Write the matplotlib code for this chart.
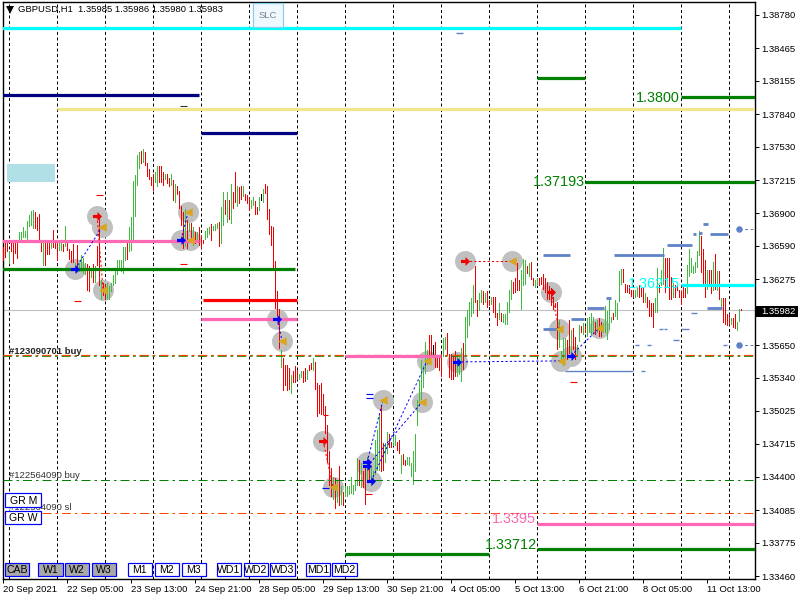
import matplotlib
matplotlib.use("Agg")
import matplotlib.pyplot as plt
import matplotlib.transforms as mtransforms
from matplotlib.patches import Rectangle
from matplotlib.path import Path
import numpy as np

plt.rcParams['font.family'] = ['Liberation Sans', 'DejaVu Sans']
plt.rcParams['lines.scale_dashes'] = False

# ---------- data: hourly bars, prices in 1/10000 ----------
high_pips = [
13658,13662,13662,13654,13662,13662,13662,13662,13672,13672,13677,13673,13683,13688,13692,13693,13691,13686,13689,13664,
13662,13662,13662,13662,13662,13674,13665,13662,13662,13662,13661,13678,13662,13656,13654,13661,13643,13660,13643,13650,
13648,13643,13642,13640,13637,13642,13640,13659,13688,13627,13624,13623,13624,13621,13624,13631,13637,13646,13646,13646,
13658,13658,13662,13677,13686,13721,13726,13745,13748,13749,13751,13748,13738,13732,13724,13727,13729,13735,13735,13735,
13729,13727,13727,13723,13727,13722,13718,13716,13711,13697,13691,13694,13684,13681,13681,13677,13672,13672,13677,13669,
13665,13673,13676,13677,13680,13678,13680,13681,13682,13696,13710,13703,13710,13703,13718,13710,13729,13716,13715,13716,
13716,13708,13707,13705,13703,13705,13702,13696,13705,13708,13713,13718,13716,13694,13678,13677,13645,13616,13599,13560,
13553,13546,13546,13543,13537,13540,13545,13541,13538,13540,13540,13543,13541,13546,13548,13553,13549,13529,13527,13529,
13519,13507,13489,13465,13448,13440,13439,13437,13450,13431,13426,13431,13431,13431,13440,13432,13437,13458,13456,13453,
13446,13451,13459,13453,13451,13446,13475,13484,13499,13507,13472,13472,13483,13481,13473,13478,13480,13473,13475,13461,
13462,13456,13459,13459,13453,13465,13481,13513,13532,13551,13545,13568,13560,13575,13575,13565,13568,13554,13553,13557,
13572,13573,13576,13557,13557,13556,13559,13557,13553,13562,13567,13592,13598,13606,13610,13622,13640,13608,13614,13617,
13616,13614,13616,13608,13611,13611,13611,13595,13605,13595,13594,13594,13606,13617,13627,13625,13629,13643,13627,13636,
13647,13646,13640,13643,13644,13629,13627,13629,13629,13630,13632,13629,13625,13621,13619,13611,13605,13606,13589,13559,
13572,13572,13570,13589,13579,13581,13573,13565,13584,13583,13586,13583,13591,13592,13595,13592,13587,13589,13591,13587,
13586,13602,13597,13608,13592,13595,13608,13605,13635,13637,13637,13623,13622,13622,13617,13617,13617,13619,13622,13619,
13619,13614,13611,13608,13605,13605,13610,13638,13622,13636,13657,13648,13648,13648,13630,13624,13622,13622,13617,13616,
13621,13619,13641,13656,13648,13640,13644,13654,13673,13668,13656,13646,13636,13636,13636,13644,13651,13635,13635,13610,
13610,13610,13594,13594,13591,13591,13594,13587,13599,13599]
low_pips = [
13645,13648,13653,13642,13653,13642,13651,13647,13662,13665,13667,13667,13662,13677,13678,13675,13675,13673,13662,13653,
13640,13640,13650,13650,13656,13657,13656,13645,13654,13654,13653,13658,13654,13646,13643,13643,13637,13637,13634,13634,
13632,13631,13616,13615,13629,13624,13624,13640,13621,13608,13612,13608,13608,13608,13615,13621,13623,13631,13637,13634,
13632,13645,13646,13653,13654,13664,13686,13716,13732,13737,13738,13735,13724,13722,13716,13711,13719,13715,13719,13719,
13716,13722,13718,13715,13716,13702,13700,13707,13694,13678,13656,13658,13656,13672,13662,13659,13661,13662,13659,13656,
13661,13665,13667,13669,13664,13673,13673,13675,13658,13661,13678,13688,13681,13684,13680,13694,13700,13696,13699,13703,
13705,13702,13699,13692,13694,13697,13688,13688,13692,13702,13700,13708,13684,13669,13659,13637,13599,13593,13561,13543,
13521,13526,13521,13522,13519,13529,13529,13532,13532,13534,13529,13530,13532,13540,13541,13540,13522,13497,13500,13499,
13499,13481,13453,13431,13421,13418,13410,13415,13412,13413,13412,13421,13421,13423,13424,13423,13427,13431,13431,13429,
13429,13413,13437,13434,13431,13437,13442,13446,13446,13445,13446,13453,13462,13467,13467,13469,13469,13465,13462,13443,
13451,13450,13451,13450,13440,13432,13445,13488,13507,13513,13524,13538,13546,13551,13553,13554,13543,13543,13540,13535,
13554,13560,13556,13534,13532,13532,13535,13535,13537,13530,13541,13556,13572,13583,13592,13594,13605,13592,13597,13605,
13603,13605,13600,13602,13603,13595,13591,13583,13589,13587,13586,13584,13584,13595,13608,13613,13614,13616,13616,13598,
13621,13622,13632,13630,13627,13621,13619,13621,13621,13622,13617,13614,13608,13608,13602,13598,13600,13560,13562,13551,
13545,13551,13551,13557,13557,13560,13551,13554,13568,13576,13575,13576,13573,13576,13575,13576,13575,13576,13573,13573,
13576,13576,13570,13579,13586,13589,13592,13589,13606,13622,13624,13614,13614,13613,13611,13610,13610,13611,13610,13611,
13605,13605,13600,13592,13592,13581,13595,13595,13614,13621,13622,13614,13619,13608,13608,13610,13610,13616,13610,13603,
13610,13610,13613,13630,13633,13632,13633,13638,13649,13633,13621,13610,13617,13621,13613,13616,13617,13616,13608,13599,
13586,13584,13583,13584,13584,13581,13580,13578,13587,13597]
up_bars = [3,8,9,10,11,12,13,14,15,20,24,28,29,31,36,38,39,40,41,44,46,49,52,53,54,55,56,57,58,59,60,61,63,64,65,66,67,68,70,
76,77,81,84,86,91,93,95,97,101,102,103,105,106,107,109,110,112,114,117,120,124,125,128,130,
139,144,148,149,152,155,165,167,169,171,172,173,174,175,176,177,179,182,184,185,186,187,188,191,192,195,196,199,202,203,204,205,206,207,208,209,210,211,212,220,221,
227,228,229,231,232,233,234,235,238,239,241,244,248,250,251,252,253,254,259,260,261,263,266,267,278,279,280,281,284,287,288,290,292,293,294,295,297,300,301,302,303,304,306,307,308,309,
316,317,321,326,327,329,330,335,342,343,344,345,346,347,348,352,355,357,359,364,367,368]
doji_bars = [129,215]

# ---------- data: horizontal levels (first bar, last bar, price) ----------
cyan_levels = [(-1,339,1.3866),(339,376,1.3622)]
navy_levels = [(-1,98,1.3802),(99,147,1.3766)]
khaki_levels = [(27,376,1.3789)]
pink_levels = [(-1,98,1.3664),(99,147,1.3590),(171,219,1.3555),(267,376,1.3395)]
green_levels = [(-1,146,1.3637),(171,243,1.3367),(267,376,1.33712),(267,291,1.3818),(291,376,1.37193),(339,376,1.3800)]
red_levels = [(100,147,1.3608)]
zone_box = (2,26,1.3720,1.3737)
bid_price = 1.35982
open_buy = 1.3555
old_buy = 1.3437
old_sl = 1.3406

steel_thick = [(269.9,283.4,1.3650),(305.4,330.4,1.3650),(353.4,362.4,1.3670),(292,300.4,1.3600),(352,359.4,1.3600),
               (284,290.4,1.3590),(270,276.9,1.3580),(301.4,303.9,1.3610),(331.9,344.4,1.3660),(350,352.4,1.3680),
               (345,346.4,1.3670),(348,349.4,1.3671)]
steel_thin = [(344,347,1.3595),(226.4,229.9,1.3861),(339,343,1.3580),(328,330,1.3580),(330.5,332,1.3580),(335,338,1.3570),
              (316,318,1.3565),(322,324,1.3565),(360,362,1.3565),(281,315,1.3540),(319,321,1.3540)]
steel_dots = [(368,1.3675),(368,1.3565)]
red_stops = [(46.5,50,1.3707),(88.5,92,1.3642),(35.5,39,1.3607),(160,162.5,1.3499),(181,184.5,1.3424),(283.5,287,1.3530)]
blue_stops = [(181.5,185,1.3519),(181.5,185,1.3515),(159.5,163,1.3429)]
black_stops = [(88.5,92,1.3792)]

buy_marks = [(35.9,1.3637),(88.9,1.3665),(136.9,1.3590),(226.9,1.3549),(181.9,1.3454),(181.9,1.3450),(183.9,1.3436),(283.9,1.3555)]
sell_marks = [(46.9,1.3687),(159.9,1.3474),(230.9,1.3645),(273.9,1.3615)]
close_marks = [(49.4,1.3677),(49.9,1.3617),(92.4,1.3691),(93.4,1.3665),(139.4,1.3569),(189.9,1.3513),(209.4,1.3511),
               (211.9,1.3550),(164.9,1.3430),(254.4,1.3645),(277.9,1.3580),(278.9,1.3550),(297.9,1.3581)]
blue_trades = [((35.9,1.3637),(49.4,1.3677)),((88.9,1.3665),(92.4,1.3691)),((136.9,1.3590),(139.4,1.3569)),
               ((181.9,1.3454),(189.9,1.3513)),((181.9,1.3450),(209.4,1.3511)),((183.9,1.3436),(211.9,1.3550)),
               ((226.9,1.3549),(278.9,1.3550)),((283.9,1.3555),(297.9,1.3581))]
red_trades = [((46.9,1.3687),(49.9,1.3617)),((159.9,1.3474),(164.9,1.3430)),((230.9,1.3645),(254.4,1.3645)),((273.9,1.3615),(277.9,1.3580))]

y_tick_values = [1.38780,1.38465,1.38155,1.37840,1.37530,1.37215,1.36900,1.36590,1.36275,1.35650,1.35340,1.35025,1.34715,1.34400,1.34085,1.33775,1.33460]
x_tick_bars = [0,32,64,96,128,160,192,224,256,288,320,352]
x_tick_labels = ["20 Sep 2021","22 Sep 05:00","23 Sep 13:00","24 Sep 21:00","28 Sep 05:00","29 Sep 13:00",
                 "30 Sep 21:00","4 Oct 05:00","5 Oct 13:00","6 Oct 21:00","8 Oct 05:00","11 Oct 13:00"]
day_bars = list(range(3,376,24))
header = "GBPUSD,H1  1.35985 1.35986 1.35980 1.35983"
grey_buttons = [("CAB",5.3,29.3),("W1",38.3,62.7),("W2",65.3,89.3),("W3",92.3,116.3)]
white_buttons = [("M1",127.7,151.7),("M2",154.7,178.7),("M3",181.7,205.7),("WD1",216.7,241),("WD2",243.7,267.7),
                 ("WD3",270.3,294.7),("MD1",305.7,330),("MD2",332.3,356.7)]

# ---------- figure ----------
W, H = 800, 600
fig = plt.figure(figsize=(8,6), dpi=100, facecolor="white")
L, R, T, B = 2.5, 754.5, 2, 579
ax = fig.add_axes([L/W, 1-B/H, (R-L)/W, (B-T)/H])
ax.set_xlim(-0.4, 375.6)
ax.set_ylim(1.38780-564*0.00009483, 1.38780+13*0.00009483)
PX = 0.72
px = mtransforms.Affine2D().scale(1,-1).translate(0,H)

for s in ("left","right","top","bottom"):
    ax.spines[s].set_linewidth(1.4*PX)
ax.yaxis.tick_right()
ax.set_yticks(y_tick_values)
ax.set_yticklabels([f"{v:.5f}" for v in y_tick_values], fontsize=6.8, color="black")
ax.set_xticks(x_tick_bars)
ax.set_xticklabels(x_tick_labels, fontsize=6.8, ha="left", color="black")
ax.tick_params(axis="both", length=3.5*PX, width=PX, pad=2.5)
ax.tick_params(axis="x", pad=1.5)

# day separators
for b in day_bars:
    ax.axvline(b, color="black", lw=PX, ls=(0,(3*PX,2.5*PX)), zorder=1)

# trade circles
all_marks = buy_marks+sell_marks+close_marks
ax.scatter(*zip(*all_marks), s=(21*PX)**2, color="#C0C0C0", linewidths=0, zorder=2)

# bars
highs = np.array(high_pips)/1e4
lows = np.array(low_pips)/1e4
idx = np.arange(len(highs))
up_set = set(up_bars)
colors = ["black" if i in doji_bars else ("#3FBC3F" if i in up_set else "#F00000") for i in idx]
ax.bar(idx, highs-lows, bottom=lows, width=0.5, color=colors, linewidth=0, zorder=3)

def draw_levels(levels, color, lw, z=4):
    for a,b,p in levels:
        ax.hlines(p, a, b, color=color, lw=lw*PX, zorder=z, capstyle="butt")

ax.axhline(bid_price, color="#C0C0C0", lw=1.1*PX, zorder=2)
draw_levels(steel_thin, "#5F82C8", 1.4)
draw_levels(steel_thick, "#5F82C8", 2.8)
draw_levels(red_stops, "#F00000", 1.1, 6)
draw_levels(blue_stops, "#0000FF", 1.1, 6)
draw_levels(black_stops, "#333333", 1.1, 6)
draw_levels(khaki_levels, "#F0E68C", 3.2)
draw_levels(navy_levels, "#000080", 3.2)
draw_levels(cyan_levels, "#00FFFF", 3.2)
draw_levels(pink_levels, "#FF69B4", 3.2)
draw_levels(green_levels, "#008000", 3.2)
draw_levels(red_levels, "#FF0000", 3.2)
ax.add_patch(Rectangle((zone_box[0],zone_box[2]), zone_box[1]-zone_box[0], zone_box[3]-zone_box[2], color="#B0E0E6", lw=0, zorder=2))

# order lines
dd = (0,(9*PX,4*PX,2.5*PX,4*PX))
ax.axhline(open_buy-0.00005, color="#008000", lw=1.6*PX, ls=dd, zorder=3)
ax.axhline(open_buy+0.00005, color="#FF4500", lw=1.2*PX, ls=dd, zorder=3)
ax.axhline(old_buy, color="#008000", lw=PX, ls=dd, zorder=3)
ax.axhline(old_sl, color="#FF4500", lw=PX, ls=dd, zorder=3)

# trade links
for a,b in blue_trades:
    ax.plot([a[0],b[0]],[a[1],b[1]], color="#0000FF", lw=PX, ls=(0,(2.2*PX,2.2*PX)), zorder=5)
for a,b in red_trades:
    ax.plot([a[0],b[0]],[a[1],b[1]], color="#F00000", lw=PX, ls=(0,(2.2*PX,2.2*PX)), zorder=5)

arrow = Path([(-1,-.35),(0,-.35),(0,-1),(1,0),(0,1),(0,.35),(-1,.35),(-1,-.35)], closed=True)
ax.scatter(*zip(*buy_marks), marker=arrow, s=(9*PX)**2, color="#0000FF", linewidths=0, zorder=6)
ax.scatter(*zip(*sell_marks), marker=arrow, s=(9*PX)**2, color="#F00000", linewidths=0, zorder=6)
ax.scatter(*zip(*close_marks), marker="<", s=(8.5*PX)**2, color="#DAA520", linewidths=0, zorder=6)

# far-right targets
ax.scatter(*zip(*steel_dots), s=(6.5*PX)**2, color="#5F82C8", linewidths=0, zorder=6)
for b,p in steel_dots:
    ax.plot([b,376],[p,p], color="#5F82C8", lw=PX, ls=(0,(3*PX,2.5*PX)), zorder=5)

# level captions
cap = dict(fontsize=10.4, ha="right", va="center", zorder=7)
ax.text(338.4, 1.37995, "1.3800", color="#008000", **cap)
ax.text(290.8, 1.37195, "1.37193", color="#008000", **cap)
ax.text(338.4, 1.3623, "1.36215", color="#00FFFF", **cap)
ax.text(266.4, 1.3400, "1.3395", color="#FF69B4", **cap)
ax.text(266.8, 1.33755, "1.33712", color="#008000", **cap)

# order captions
def ptext(x, y, s, **k):
    k.setdefault("fontsize", 6.8); k.setdefault("va", "center"); k.setdefault("ha", "left"); k.setdefault("color", "black")
    return fig.text(x, y, s, transform=px, **k)
ptext(9, 351, "#123090701 buy", fontweight="bold", color="#222222", zorder=8)
ptext(9, 476, "#122564090 buy", color="#333333", zorder=8)
ptext(9, 508, "#122564090 sl", color="#333333", zorder=8)
ptext(18, 9.5, header, zorder=8)
fig.add_artist(plt.Line2D([10],[9.5], marker="v", ms=5.5, color="black", transform=px, linestyle="none", markeredgewidth=0, zorder=8))

# current price tag
fig.add_artist(Rectangle((756,305.5), 41.5, 11, transform=px, fc="black", ec="none", zorder=7))
ptext(761, 311, f"{bid_price:.5f}", color="white", zorder=8)

def button(x0, x1, y0, y1, label, fc, ec="#0000FF", tc="black", fs=7.6):
    fig.add_artist(Rectangle((x0,y0), x1-x0, y1-y0, transform=px, fc=fc, ec=ec, lw=1.2*PX, zorder=9))
    ptext((x0+x1)/2, (y0+y1)/2+0.2, label, ha="center", color=tc, fontsize=fs, zorder=10)

for lab,a,b in grey_buttons:
    button(a,b,562.7,576,lab,"#A9A9A9")
for lab,a,b in white_buttons:
    button(a,b,562.7,576,lab,"white")
button(5.3,41.3,493.3,507.3,"GR M","white")
button(5.3,41.3,510.7,524.3,"GR W","white")
button(253,282.7,3.3,27.3,"SLC","#F0F8FF",ec="#87CEEB",tc="#808080",fs=6.8)

fig.savefig("out.png", dpi=100)
